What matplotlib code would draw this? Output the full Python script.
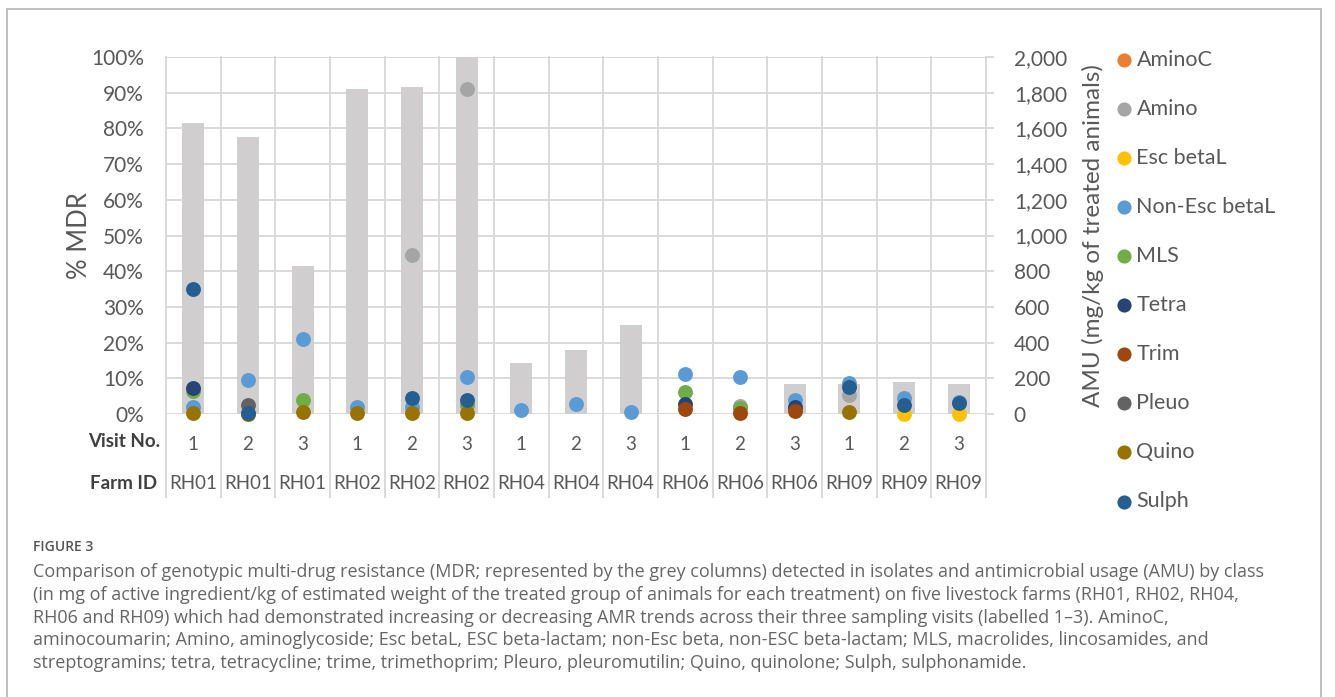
import numpy as np
import matplotlib
matplotlib.use("Agg")
import matplotlib.pyplot as plt
from matplotlib.ticker import FuncFormatter, MultipleLocator
from matplotlib.transforms import blended_transform_factory
from matplotlib.patches import Rectangle

nan = np.nan

# categories
farm_ids = ["RH01"] * 3 + ["RH02"] * 3 + ["RH04"] * 3 + ["RH06"] * 3 + ["RH09"] * 3
visit_no = ["1", "2", "3"] * 5

# % MDR (grey columns, left axis)
mdr_pct = [81.6, 77.6, 41.5, 91.0, 91.5, 100.0, 14.2, 17.9, 24.9, 0, 0, 8.3, 8.3, 8.9, 8.3]

# AMU by class, mg/kg of treated animals (dots, right axis)
aminoc = [nan] * 15
amino = [nan, nan, nan, nan, 890, 1820, nan, nan, nan, nan, 45, nan, 106, nan, nan]
esc_betal = [nan, 0, nan, nan, nan, nan, nan, nan, nan, nan, nan, nan, nan, 0, 0]
non_esc_betal = [38, 190, 420, 41, 40, 210, 22, 56, 13, 224, 210, 78, 172, 88, 70]
mls = [128, nan, 78, nan, nan, 50, nan, nan, nan, 122, 35, nan, nan, nan, nan]
tetra = [144, nan, nan, nan, nan, nan, nan, nan, nan, 56, nan, 38, nan, nan, nan]
trim = [nan, nan, nan, nan, nan, nan, nan, nan, nan, 26, 8, 16, nan, nan, nan]
pleuo = [nan, 50, nan, nan, nan, nan, nan, nan, nan, nan, nan, nan, nan, nan, nan]
quino = [4, 0, 13, 4, 4, 4, nan, nan, nan, nan, nan, nan, 13, nan, nan]
sulph = [698, 8, nan, nan, 88, 78, nan, nan, nan, nan, nan, nan, 150, 50, 60]

amu_names = ["AminoC", "Amino", "Esc betaL", "Non-Esc betaL", "MLS",
             "Tetra", "Trim", "Pleuo", "Quino", "Sulph"]
amu_values = [aminoc, amino, esc_betal, non_esc_betal, mls,
              tetra, trim, pleuo, quino, sulph]
amu_colors = ["#ED7D31", "#A5A5A5", "#FFC000", "#5B9BD5", "#70AD47",
              "#264478", "#9E480E", "#636363", "#997300", "#255E91"]

caption_lines = [
    "Comparison of genotypic multi-drug resistance (MDR; represented by the grey columns) detected in isolates and antimicrobial usage (AMU) by class",
    "(in mg of active ingredient/kg of estimated weight of the treated group of animals for each treatment) on five livestock farms (RH01, RH02, RH04,",
    "RH06 and RH09) which had demonstrated increasing or decreasing AMR trends across their three sampling visits (labelled 1\u20133). AminoC,",
    "aminocoumarin; Amino, aminoglycoside; Esc betaL, ESC beta-lactam; non-Esc beta, non-ESC beta-lactam; MLS, macrolides, lincosamides, and",
    "streptogramins; tetra, tetracycline; trime, trimethoprim; Pleuro, pleuromutilin; Quino, quinolone; Sulph, sulphonamide.",
]

plt.rcParams["font.family"] = ["Lato", "DejaVu Sans"]
TXT = "#595959"
GRID = "#d9d9d9"

W, H = 1335, 697
fig = plt.figure(figsize=(W / 100, H / 100), dpi=100)
fig.patches.append(Rectangle((7 / W, -0.1), 1314 / W, 1.1 - 9 / H, transform=fig.transFigure,
                             fill=False, edgecolor="#b4b4b4", lw=1.2))

ax = fig.add_axes([166 / W, 1 - 414 / H, 820 / W, 357 / H])
x = np.arange(len(farm_ids))
ax.bar(x, mdr_pct, width=0.4, color="#d0cece", zorder=2)
ax.set_xlim(-0.5, len(x) - 0.5)
ax.set_ylim(0, 100)
ax.yaxis.set_major_locator(MultipleLocator(10))
ax.yaxis.set_major_formatter(FuncFormatter(lambda v, p: f"{v:.0f}%"))
ax.yaxis.grid(True, color=GRID, lw=1.4)
ax.set_axisbelow(True)
ax.set_xticks([])
ax.tick_params(axis="y", length=0, pad=16, labelsize=15, labelcolor=TXT)
for s in ax.spines.values():
    s.set_visible(False)
ax.set_ylabel("% MDR", fontsize=18.5, color=TXT)
ax.yaxis.set_label_coords(-0.09, 0.5)

# category table under the plot
for b in np.arange(-0.5, len(x)):
    ax.axvline(b, ymin=-0.2325, ymax=1, color=GRID, lw=1.4, clip_on=False, zorder=1)
tr = blended_transform_factory(ax.transData, ax.transAxes)
for i in x:
    ax.text(i, -0.085, visit_no[i], transform=tr, ha="center", va="center",
            fontsize=13.5, color=TXT)
    ax.text(i, -0.196, farm_ids[i], transform=tr, ha="center", va="center",
            fontsize=13.5, color=TXT)
ax.text(-0.007, -0.076, "Visit No.", transform=ax.transAxes, ha="right", va="center",
        fontsize=13.5, fontweight="bold", color="#404040")
ax.text(-0.011, -0.196, "Farm ID", transform=ax.transAxes, ha="right", va="center",
        fontsize=13.5, fontweight="bold", color="#404040")

ax2 = ax.twinx()
ax2.set_ylim(0, 2000)
ax2.yaxis.set_major_locator(MultipleLocator(200))
ax2.yaxis.set_major_formatter(FuncFormatter(lambda v, p: f"{v:,.0f}"))
ax2.tick_params(axis="y", length=6, width=1.4, color=GRID, pad=14, labelsize=15, labelcolor=TXT)
for s in ax2.spines.values():
    s.set_visible(False)
ax2.set_ylabel("AMU (mg/kg of treated animals)", fontsize=17.5, color=TXT)
ax2.yaxis.set_label_coords(1.117, 0.5)

for name, vals, col in zip(amu_names, amu_values, amu_colors):
    ax2.scatter(x, vals, s=115, color=col, linewidths=0, clip_on=False, zorder=3, label=name)

h, l = ax2.get_legend_handles_labels()
leg = fig.legend(h, l, loc="upper left", bbox_to_anchor=(1102 / W, 1 - 41 / H), frameon=False,
                 fontsize=15.5, labelspacing=1.35, handletextpad=0.0, handlelength=1.2,
                 scatterpoints=1, markerscale=0.95, borderaxespad=0)
for t in leg.get_texts():
    t.set_color(TXT)

fig.text(33 / W, 1 - 547 / H, "FIGURE 3", fontsize=10, color="#555555", va="center",
         family=["Open Sans", "DejaVu Sans"], fontweight="semibold")
fig.text(33 / W, 1 - 563 / H, "\n".join(caption_lines), fontsize=13.0, color="#666666", va="top",
         family=["Open Sans", "DejaVu Sans"], linespacing=1.34)

fig.savefig("out.png", dpi=100)
